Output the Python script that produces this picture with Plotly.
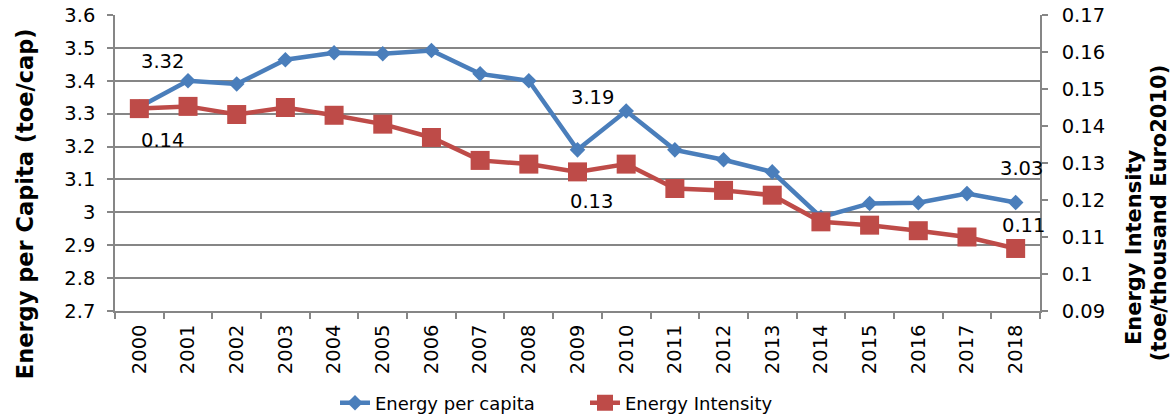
import plotly.graph_objects as go

years = [str(y) for y in range(2000, 2019)]
energy_per_capita = [3.32, 3.40, 3.39, 3.464, 3.485, 3.482, 3.492, 3.421, 3.40, 3.19,
                     3.308, 3.19, 3.16, 3.123, 2.985, 3.027, 3.029, 3.057, 3.03]
energy_intensity = [0.1447, 0.1453, 0.1431, 0.1450, 0.1429, 0.1405, 0.1369, 0.1307, 0.1297, 0.1276,
                    0.1297, 0.1231, 0.1226, 0.1213, 0.1141, 0.1132, 0.1117, 0.1100, 0.1069]

left_ticks = [2.7, 2.8, 2.9, 3.0, 3.1, 3.2, 3.3, 3.4, 3.5, 3.6]
right_ticks = [0.09, 0.10, 0.11, 0.12, 0.13, 0.14, 0.15, 0.16, 0.17]

BLUE = "#4A7EBB"
RED = "#BE4B48"
GRID = "#868686"
FONT = "DejaVu Sans"

W, H = 1170, 415
L, R, T, B = 115, 130, 14.5, 104
PW, PH = W - L - R, H - T - B


def px(x):
    return (x - L) / PW


def py(y):
    return (H - B - y) / PH


fig = go.Figure()
fig.add_trace(go.Scatter(
    x=years, y=energy_per_capita, name="Energy per capita", mode="lines+markers",
    line=dict(color=BLUE, width=4.5),
    marker=dict(symbol="diamond", size=12, color=BLUE),
    yaxis="y",
))
fig.add_trace(go.Scatter(
    x=years, y=energy_intensity, name="Energy Intensity", mode="lines+markers",
    line=dict(color=RED, width=4.5),
    marker=dict(symbol="square", size=19, color=RED),
    yaxis="y2",
))

labels = [
    (0, energy_per_capita[0], "y", 23, 46),
    (0, energy_intensity[0], "y2", 23, -32),
    (9, energy_per_capita[9], "y", 15, 52),
    (9, energy_intensity[9], "y2", 14, -30),
    (18, energy_per_capita[18], "y", 6, 34),
    (18, energy_intensity[18], "y2", 8, 23),
]
annotations = []
for i, v, yref, xs, ys in labels:
    annotations.append(dict(
        x=i, y=v, xref="x", yref=yref, text=f"{v:.2f}", showarrow=False,
        xanchor="center", yanchor="middle",
        xshift=xs, yshift=ys, font=dict(family=FONT, size=19.5, color="black"),
    ))

titles = [
    ("<b>Energy per Capita (toe/cap)</b>", 25, 204, 22.5),
    ("<b>Energy Intensity</b>", 1134, 247, 21),
    ("<b>(toe/thousand Euro2010)</b>", 1159, 213, 21),
]
for text, cx, cy, size in titles:
    annotations.append(dict(
        x=px(cx), y=py(cy), xref="paper", yref="paper", text=text,
        xanchor="center", yanchor="middle",
        textangle=-90, showarrow=False, font=dict(family=FONT, size=size, color="black"),
    ))

fig.update_layout(
    width=W, height=H,
    margin=dict(l=L, r=R, t=T, b=B, autoexpand=False),
    paper_bgcolor="white", plot_bgcolor="white",
    font=dict(family=FONT, size=19.5, color="black"),
    showlegend=True,
    legend=dict(
        orientation="h", xref="container", yref="container",
        x=335 / W, xanchor="left", y=1 - 403 / H, yanchor="middle",
        font=dict(family=FONT, size=18, color="black"),
        entrywidth=205, entrywidthmode="pixels",
        bgcolor="rgba(0,0,0,0)",
    ),
    xaxis=dict(
        type="category", range=[-0.5, len(years) - 0.5], tickangle=-90, showgrid=False,
        showline=True, linecolor=GRID, linewidth=1.5,
        ticks="outside", tickson="boundaries", ticklen=6, tickcolor=GRID, tickwidth=1.5,
        ticklabelstandoff=4,
        tickfont=dict(family=FONT, size=19.5, color="black"), automargin=False,
    ),
    yaxis=dict(
        range=[2.7, 3.6], tickvals=left_ticks, ticktext=[f"{v:g}" for v in left_ticks],
        showgrid=True, gridcolor=GRID, gridwidth=1.5,
        showline=True, linecolor=GRID, linewidth=1.5, zeroline=False,
        ticks="outside", ticklen=6, tickcolor=GRID, tickwidth=1.5,
        ticklabelstandoff=8,
        tickfont=dict(family=FONT, size=19.5, color="black"), automargin=False,
    ),
    yaxis2=dict(
        range=[0.09, 0.17], tickvals=right_ticks, ticktext=[f"{v:g}" for v in right_ticks],
        overlaying="y", side="right", showgrid=False,
        showline=True, linecolor=GRID, linewidth=1.5, zeroline=False,
        ticks="outside", ticklen=6, tickcolor=GRID, tickwidth=1.5,
        ticklabelstandoff=10,
        tickfont=dict(family=FONT, size=19.5, color="black"), automargin=False,
    ),
    annotations=annotations,
)

fig.write_html("out.html", config={"displayModeBar": False},
               post_script="document.body.style.margin='0';")
